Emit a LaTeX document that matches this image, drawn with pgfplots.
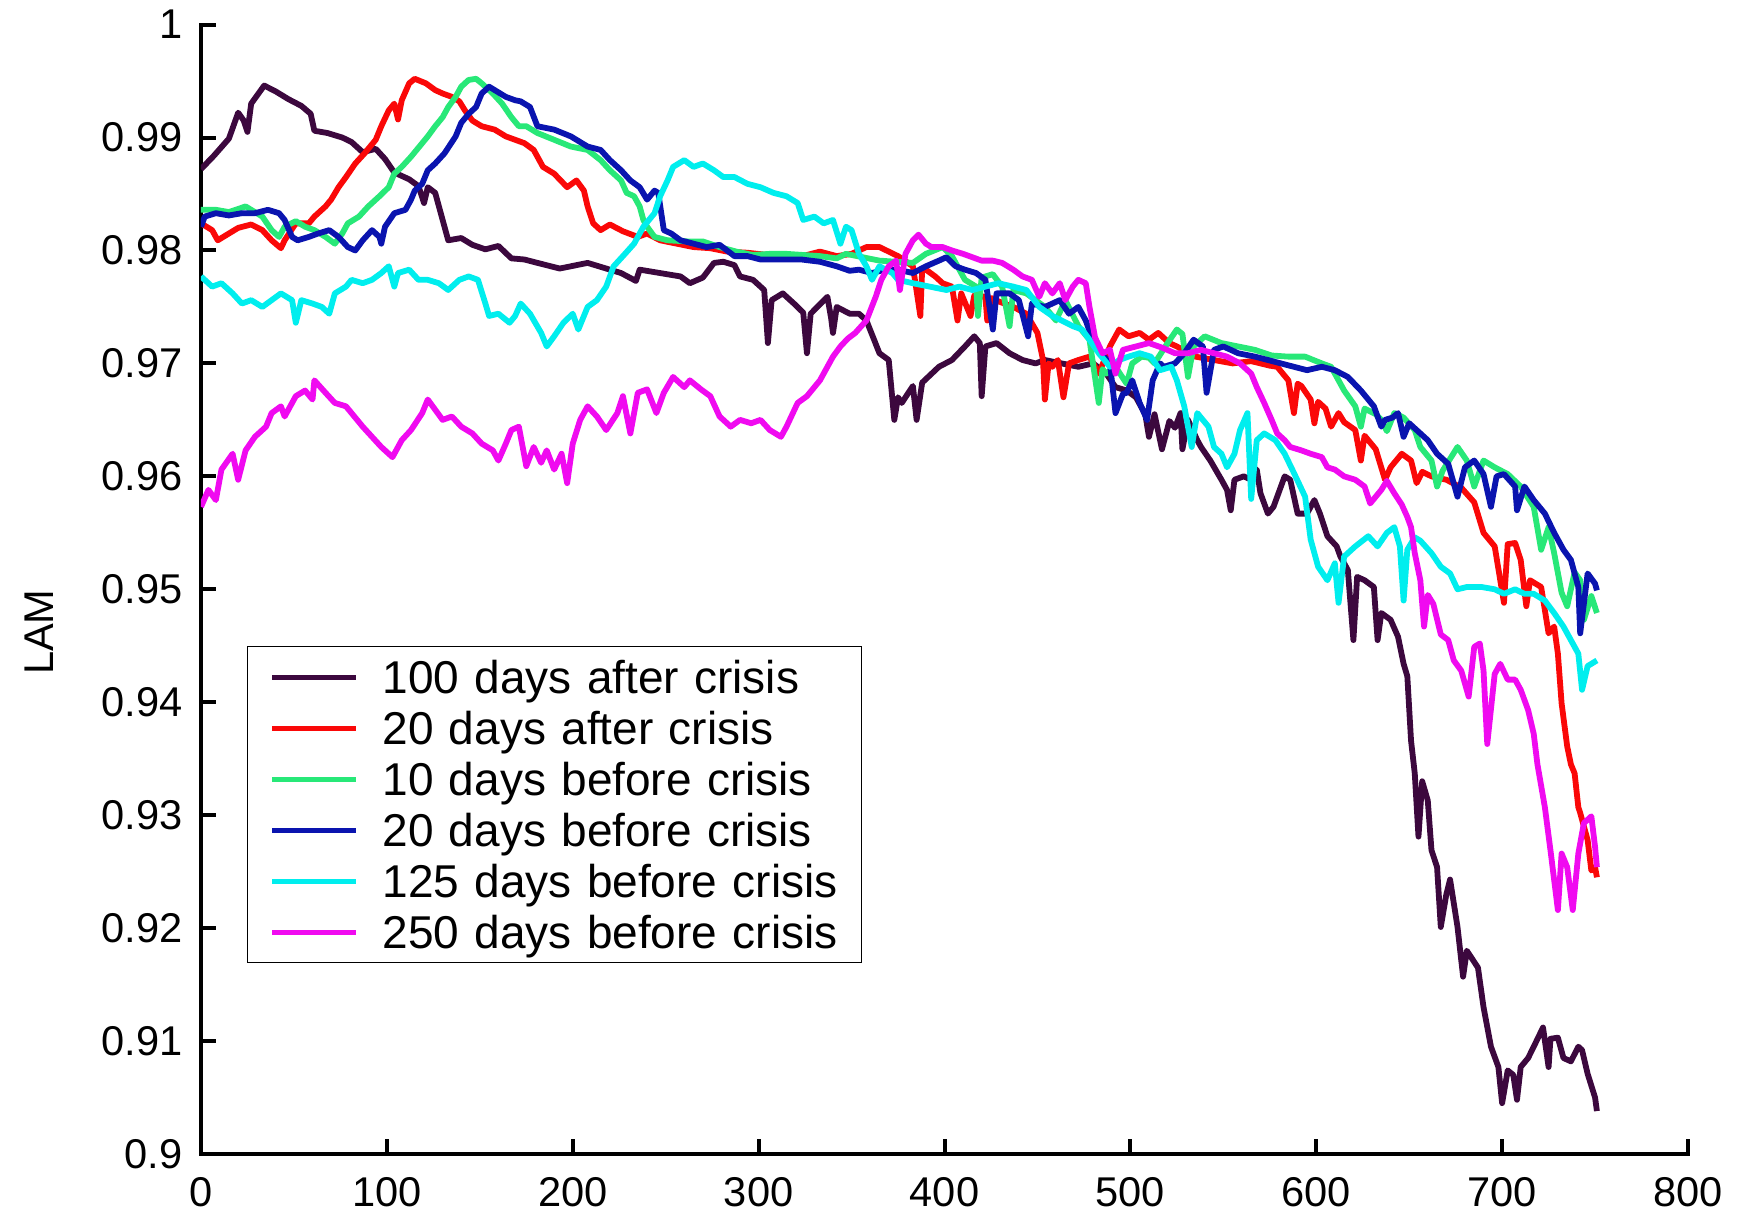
\documentclass[border=0pt]{standalone}
\usepackage{pgfplots}
\pgfplotsset{compat=1.18}
\usepackage{fontspec}
\setmainfont{Liberation Sans}

\definecolor{cPurple}{RGB}{60,8,62}
\definecolor{cRed}{RGB}{250,8,8}
\definecolor{cGreen}{RGB}{40,232,120}
\definecolor{cBlue}{RGB}{10,20,175}
\definecolor{cCyan}{RGB}{0,238,238}
\definecolor{cMagenta}{RGB}{240,10,240}

\begin{document}
\begin{tikzpicture}
\path[use as bounding box] (-100.5pt,-30pt) rectangle (772.5pt,577pt);
\begin{axis}[
  scale only axis,
  width=743.5pt, height=564.7pt,
  xmin=0, xmax=800, ymin=0.9, ymax=1,
  axis x line*=bottom, axis y line*=left,
  axis line style={line width=2pt, black, line cap=rect},
  tick align=inside,
  major tick length=7.5pt,
  every tick/.style={line width=2pt, black},
  xtick={0,100,200,300,400,500,600,700,800},
  xticklabels={0,100,200,300,400,500,600,700,800},
  ytick={0.9,0.91,0.92,0.93,0.94,0.95,0.96,0.97,0.98,0.99,1},
  yticklabels={0.9,0.91,0.92,0.93,0.94,0.95,0.96,0.97,0.98,0.99,1},
  ticklabel style={font=\fontsize{20.8}{25}\selectfont},
  yticklabel style={inner sep=0pt, anchor=east, xshift=-9pt},
  xticklabel style={inner sep=0pt, anchor=north, yshift=-11.5pt},
  ylabel={LAM},
  ylabel style={font=\fontsize{20.8}{25}\selectfont, at={(axis description cs:-0.109,0.462)}, anchor=center},
  legend style={
    at={(axis description cs:0.0309,0.450)}, anchor=north west,
    draw=black, line width=0.75pt, fill=white,
    inner xsep=11pt, inner ysep=2.5pt,
    font=\fontsize{23}{27}\selectfont,
    cells={anchor=west},
    nodes={inner sep=0pt, text height=21pt, text depth=4.5pt, text width=228.6pt, align=left},
    row sep=0pt,
  },
  legend image code/.code={\draw[#1, line width=2.5pt] (0pt,0pt) -- (42pt,0pt); \path (53.7pt,0pt);},
  every axis plot/.append style={line width=2.9pt, line join=round, mark=none},
]

% 100 days after crisis
\addplot[cPurple] coordinates {
(0,0.9872) (7,0.9884) (15,0.9899) (20,0.9922) (23,0.9915) (25,0.9905) (27,0.9930) (34,0.9946)
(40,0.9941) (47,0.9934) (54,0.9928) (59,0.9921) (61,0.9906) (68,0.9904) (76,0.9900) (81,0.9896)
(87,0.9887) (94,0.9890) (99,0.9881) (104,0.9869) (112,0.9863) (117,0.9857) (120,0.9842) (122,0.9856)
(126,0.9851) (130,0.9827) (133,0.9809) (140,0.9811) (146,0.9805) (153,0.9801) (160,0.9804) (167,0.9793)
(174,0.9792) (181,0.9789) (193,0.9784) (208,0.9789) (218,0.9784) (226,0.9780) (234,0.9773) (236,0.9783)
(247,0.9780) (258,0.9777) (263,0.9771) (270,0.9776) (276,0.9789) (281,0.9790) (287,0.9787) (290,0.9777)
(297,0.9774) (303,0.9765) (305,0.9718) (307,0.9756) (313,0.9762) (319,0.9753) (324,0.9745) (326,0.9709)
(328,0.9744) (337,0.9759) (339,0.9740) (340,0.9727) (342,0.9750) (349,0.9744) (354,0.9744) (358,0.9738)
(365,0.9709) (370,0.9703) (373,0.9650) (375,0.9670) (377,0.9665) (383,0.9680) (385,0.9650) (388,0.9683)
(397,0.9697) (404,0.9703) (411,0.9715) (416,0.9724) (419,0.9718) (420,0.9671) (422,0.9715) (428,0.9718)
(435,0.9709) (442,0.9703) (449,0.9700) (454,0.9703) (463,0.9700) (472,0.9697) (480,0.9700) (487,0.9691)
(492,0.9679) (498,0.9676) (503,0.9670) (508,0.9655) (510,0.9635) (513,0.9655) (517,0.9624) (521,0.9649)
(524,0.9643) (527,0.9656) (528,0.9624) (531,0.9650) (536,0.9632) (538,0.9626) (543,0.9614) (549,0.9597)
(552,0.9588) (554,0.9570) (556,0.9597) (561,0.9600) (565,0.9597) (568,0.9606) (570,0.9585) (574,0.9567)
(577,0.9573) (583,0.9600) (586,0.9597) (590,0.9567) (595,0.9567) (599,0.9579) (602,0.9567) (606,0.9547)
(611,0.9538) (613,0.9529) (617,0.9517) (620,0.9455) (622,0.9511) (626,0.9508) (631,0.9502) (633,0.9455)
(635,0.9479) (640,0.9473) (644,0.9458) (647,0.9434) (649,0.9423) (651,0.9366) (653,0.9337) (655,0.9281)
(657,0.9330) (660,0.9313) (662,0.9269) (665,0.9254) (667,0.9201) (670,0.9230) (672,0.9243) (676,0.9201)
(679,0.9157) (681,0.9180) (687,0.9165) (690,0.9130) (694,0.9095) (698,0.9077) (700,0.9045) (703,0.9074)
(706,0.9070) (708,0.9048) (710,0.9077) (714,0.9085) (717,0.9095) (722,0.9112) (725,0.9077) (726,0.9102)
(730,0.9103) (733,0.9085) (737,0.9082) (741,0.9095) (743,0.9092) (746,0.9071) (750,0.9050) (751,0.9038)
};
\addlegendentry{100 days after crisis}

% 20 days after crisis
\addplot[cRed] coordinates {
(0,0.9824) (6,0.9818) (9,0.9809) (15,0.9815) (20,0.9820) (27,0.9823) (33,0.9818) (38,0.9809)
(43,0.9802) (45,0.9809) (51,0.9824) (58,0.9824) (61,0.9830) (67,0.9839) (70,0.9845) (74,0.9856)
(78,0.9865) (83,0.9877) (88,0.9886) (94,0.9898) (97,0.9910) (101,0.9924) (104,0.9930) (106,0.9916)
(108,0.9933) (112,0.9948) (115,0.9952) (121,0.9948) (126,0.9942) (130,0.9939) (135,0.9936) (139,0.9932)
(142,0.9924) (146,0.9915) (151,0.9910) (158,0.9907) (164,0.9901) (169,0.9898) (174,0.9895) (179,0.9889)
(184,0.9874) (190,0.9868) (197,0.9856) (202,0.9862) (206,0.9853) (208,0.9839) (211,0.9824) (215,0.9818)
(220,0.9823) (227,0.9817) (235,0.9812) (240,0.9815) (247,0.9809) (256,0.9806) (265,0.9803) (274,0.9802)
(283,0.9799) (294,0.9798) (305,0.9796) (315,0.9795) (326,0.9796) (333,0.9799) (342,0.9795) (350,0.9797)
(358,0.9803) (365,0.9803) (375,0.9795) (383,0.9786) (387,0.9742) (388,0.9784) (390,0.9783) (395,0.9777)
(399,0.9771) (404,0.9768) (407,0.9738) (409,0.9762) (414,0.9742) (416,0.9760) (422,0.9759) (423,0.9738)
(425,0.9758) (429,0.9755) (437,0.9750) (444,0.9744) (450,0.9727) (453,0.9703) (454,0.9668) (456,0.9700)
(458,0.9697) (461,0.9703) (464,0.9670) (467,0.9700) (472,0.9703) (478,0.9706) (483,0.9691) (489,0.9715)
(494,0.9730) (499,0.9724) (505,0.9727) (510,0.9721) (515,0.9727) (521,0.9718) (525,0.9715) (535,0.9706)
(545,0.9703) (555,0.9700) (565,0.9702) (575,0.9698) (579,0.9697) (585,0.9685) (588,0.9656) (590,0.9682)
(592,0.9680) (597,0.9668) (599,0.9647) (601,0.9666) (605,0.9660) (608,0.9644) (612,0.9656) (615,0.9648)
(621,0.9641) (624,0.9614) (626,0.9636) (628,0.9632) (632,0.9624) (637,0.9597) (640,0.9608) (646,0.9620)
(651,0.9614) (654,0.9594) (657,0.9604) (662,0.9600) (670,0.9597) (678,0.9590) (685,0.9577) (690,0.9550)
(696,0.9538) (701,0.9488) (703,0.9540) (707,0.9541) (710,0.9526) (713,0.9485) (715,0.9508) (721,0.9502)
(725,0.9461) (728,0.9467) (730,0.9443) (732,0.9399) (735,0.9361) (737,0.9345) (739,0.9337) (741,0.9307)
(742,0.9302) (746,0.9278) (748,0.9251) (750,0.9254) (751,0.9245)
};
\addlegendentry{20 days after crisis}

% 10 days before crisis
\addplot[cGreen] coordinates {
(0,0.9836) (8,0.9836) (15,0.9834) (24,0.9839) (33,0.9830) (38,0.9818) (42,0.9812) (45,0.9821)
(51,0.9826) (56,0.9821) (61,0.9818) (67,0.9812) (72,0.9806) (76,0.9815) (79,0.9824) (85,0.9830)
(90,0.9839) (96,0.9848) (101,0.9856) (104,0.9868) (108,0.9874) (113,0.9883) (119,0.9895) (122,0.9901)
(126,0.9910) (130,0.9918) (133,0.9927) (137,0.9936) (140,0.9945) (144,0.9951) (148,0.9952) (151,0.9948)
(157,0.9939) (162,0.9930) (167,0.9918) (171,0.9910) (175,0.9910) (181,0.9904) (190,0.9898) (199,0.9892)
(208,0.9889) (215,0.9880) (220,0.9871) (226,0.9862) (229,0.9851) (233,0.9848) (236,0.9839) (238,0.9827)
(240,0.9821) (244,0.9812) (251,0.9809) (262,0.9808) (270,0.9808) (279,0.9803) (288,0.9799) (297,0.9796)
(306,0.9797) (315,0.9797) (324,0.9796) (333,0.9795) (342,0.9793) (347,0.9797) (356,0.9794) (365,0.9791)
(374,0.9790) (383,0.9789) (390,0.9797) (399,0.9803) (404,0.9795) (411,0.9774) (417,0.9768) (418,0.9742)
(420,0.9776) (426,0.9779) (431,0.9768) (435,0.9733) (437,0.9765) (444,0.9762) (449,0.9756) (454,0.9750)
(460,0.9738) (465,0.9756) (472,0.9733) (478,0.9721) (483,0.9665) (485,0.9695) (487,0.9691) (492,0.9697)
(498,0.9682) (501,0.9700) (506,0.9706) (510,0.9705) (513,0.9700) (520,0.9718) (525,0.9730) (528,0.9726)
(531,0.9688) (534,0.9715) (540,0.9724) (549,0.9718) (558,0.9715) (567,0.9712) (576,0.9707) (585,0.9706)
(594,0.9706) (603,0.9700) (608,0.9697) (612,0.9685) (615,0.9676) (621,0.9662) (624,0.9644) (626,0.9660)
(632,0.9655) (635,0.9650) (638,0.9640) (642,0.9656) (647,0.9652) (653,0.9641) (656,0.9626) (662,0.9614)
(665,0.9591) (668,0.9605) (676,0.9626) (681,0.9614) (685,0.9591) (690,0.9614) (696,0.9608) (703,0.9602)
(710,0.9591) (717,0.9573) (721,0.9535) (725,0.9555) (728,0.9532) (732,0.9497) (735,0.9485) (739,0.9515)
(742,0.9508) (744,0.9473) (748,0.9494) (751,0.9479)
};
\addlegendentry{10 days before crisis}

% 20 days before crisis
\addplot[cBlue] coordinates {
(0,0.9821) (2,0.9830) (8,0.9833) (15,0.9831) (22,0.9833) (29,0.9833) (36,0.9836) (42,0.9833)
(45,0.9827) (49,0.9812) (52,0.9809) (58,0.9812) (63,0.9815) (69,0.9818) (74,0.9812) (79,0.9803)
(83,0.9800) (87,0.9809) (92,0.9818) (96,0.9812) (97,0.9806) (99,0.9821) (104,0.9833) (110,0.9836)
(113,0.9845) (115,0.9853) (119,0.9859) (122,0.9871) (126,0.9877) (131,0.9886) (137,0.9901) (140,0.9913)
(144,0.9921) (148,0.9927) (151,0.9939) (155,0.9945) (158,0.9942) (164,0.9936) (169,0.9933) (172,0.9932)
(177,0.9927) (181,0.9910) (190,0.9907) (199,0.9901) (208,0.9892) (215,0.9889) (220,0.9880) (226,0.9871)
(231,0.9862) (236,0.9856) (240,0.9845) (244,0.9853) (246,0.9851) (249,0.9818) (253,0.9815) (258,0.9809)
(265,0.9806) (272,0.9803) (279,0.9805) (287,0.9795) (294,0.9795) (301,0.9792) (312,0.9792) (323,0.9792)
(333,0.9790) (342,0.9786) (349,0.9782) (354,0.9783) (361,0.9780) (368,0.9783) (375,0.9783) (383,0.9780)
(390,0.9786) (397,0.9791) (401,0.9794) (406,0.9786) (411,0.9783) (417,0.9780) (422,0.9774) (426,0.9730)
(428,0.9762) (435,0.9762) (440,0.9756) (445,0.9724) (447,0.9753) (454,0.9750) (462,0.9756) (467,0.9744)
(472,0.9750) (476,0.9738) (481,0.9715) (489,0.9700) (492,0.9656) (496,0.9673) (498,0.9674) (501,0.9685)
(505,0.9665) (509,0.9650) (512,0.9685) (516,0.9700) (518,0.9697) (524,0.9700) (529,0.9709) (534,0.9721)
(539,0.9715) (541,0.9674) (545,0.9712) (550,0.9715) (558,0.9709) (567,0.9706) (574,0.9703) (581,0.9700)
(588,0.9697) (595,0.9694) (603,0.9697) (610,0.9694) (617,0.9688) (624,0.9676) (631,0.9662) (635,0.9644)
(637,0.9650) (641,0.9652) (644,0.9656) (647,0.9635) (650,0.9647) (654,0.9641) (660,0.9632) (665,0.9620)
(671,0.9611) (676,0.9582) (680,0.9608) (685,0.9614) (690,0.9602) (694,0.9573) (697,0.9600) (701,0.9602)
(707,0.9591) (708,0.9570) (712,0.9591) (717,0.9579) (723,0.9567) (728,0.9550) (733,0.9535) (737,0.9526)
(741,0.9502) (742,0.9461) (746,0.9514) (750,0.9505) (751,0.9499)
};
\addlegendentry{20 days before crisis}

% 125 days before crisis
\addplot[cCyan] coordinates {
(0,0.9777) (6,0.9768) (11,0.9771) (17,0.9762) (22,0.9753) (27,0.9756) (33,0.9750) (38,0.9756)
(43,0.9762) (49,0.9756) (51,0.9736) (54,0.9756) (60,0.9753) (65,0.9750) (69,0.9744) (72,0.9762)
(78,0.9768) (81,0.9774) (87,0.9771) (92,0.9774) (97,0.9780) (101,0.9786) (104,0.9768) (106,0.9780)
(112,0.9783) (117,0.9774) (122,0.9774) (128,0.9771) (133,0.9765) (139,0.9774) (144,0.9777) (149,0.9774)
(153,0.9753) (155,0.9742) (160,0.9744) (166,0.9736) (169,0.9742) (172,0.9753) (177,0.9744) (183,0.9727)
(186,0.9715) (190,0.9724) (195,0.9736) (200,0.9744) (203,0.9730) (208,0.9750) (213,0.9756) (218,0.9768)
(222,0.9786) (227,0.9795) (233,0.9806) (238,0.9821) (244,0.9833) (247,0.9848) (251,0.9862) (254,0.9874)
(260,0.9880) (265,0.9874) (270,0.9877) (276,0.9871) (281,0.9865) (287,0.9865) (294,0.9859) (301,0.9856)
(308,0.9851) (315,0.9848) (321,0.9842) (324,0.9827) (330,0.9830) (335,0.9824) (340,0.9827) (344,0.9806)
(347,0.9821) (350,0.9818) (354,0.9797) (358,0.9786) (361,0.9774) (365,0.9786) (372,0.9780) (375,0.9774)
(383,0.9771) (392,0.9768) (401,0.9765) (408,0.9768) (415,0.9765) (422,0.9768) (429,0.9771) (437,0.9768)
(444,0.9765) (451,0.9750) (458,0.9742) (463,0.9738) (469,0.9733) (474,0.9730) (478,0.9721) (483,0.9709)
(489,0.9697) (494,0.9703) (499,0.9706) (505,0.9709) (511,0.9706) (516,0.9694) (522,0.9697) (525,0.9685)
(529,0.9662) (533,0.9626) (536,0.9656) (542,0.9644) (545,0.9626) (549,0.9620) (552,0.9608) (556,0.9620)
(559,0.9641) (563,0.9656) (565,0.9580) (568,0.9632) (572,0.9638) (578,0.9632) (583,0.9620) (588,0.9603)
(594,0.9582) (597,0.9544) (601,0.9520) (606,0.9508) (610,0.9523) (612,0.9488) (615,0.9529) (621,0.9538)
(628,0.9547) (633,0.9538) (638,0.9550) (642,0.9555) (645,0.9538) (647,0.9490) (649,0.9535) (653,0.9546)
(656,0.9543) (662,0.9532) (667,0.9520) (672,0.9514) (676,0.9500) (681,0.9502) (689,0.9502) (696,0.9500)
(701,0.9496) (707,0.9500) (712,0.9496) (717,0.9496) (723,0.9490) (728,0.9479) (733,0.9467) (737,0.9455)
(741,0.9443) (743,0.9411) (746,0.9432) (751,0.9437)
};
\addlegendentry{125 days before crisis}

% 250 days before crisis
\addplot[cMagenta] coordinates {
(0,0.9573) (4,0.9588) (8,0.9579) (11,0.9606) (17,0.9620) (20,0.9597) (24,0.9623) (29,0.9635)
(35,0.9644) (38,0.9656) (43,0.9662) (45,0.9653) (51,0.9671) (56,0.9676) (60,0.9668) (61,0.9685)
(67,0.9674) (72,0.9665) (78,0.9662) (81,0.9656) (87,0.9644) (92,0.9635) (97,0.9626) (103,0.9617)
(108,0.9632) (113,0.9641) (119,0.9656) (122,0.9668) (126,0.9659) (130,0.9650) (135,0.9653) (140,0.9644)
(146,0.9638) (151,0.9629) (157,0.9623) (160,0.9614) (164,0.9629) (167,0.9641) (171,0.9644) (175,0.9609)
(179,0.9626) (183,0.9612) (186,0.9623) (190,0.9606) (194,0.9620) (197,0.9594) (200,0.9629) (204,0.9650)
(208,0.9662) (213,0.9653) (218,0.9641) (224,0.9656) (227,0.9671) (231,0.9638) (235,0.9674) (240,0.9677)
(245,0.9656) (249,0.9674) (254,0.9688) (260,0.9679) (263,0.9685) (269,0.9677) (274,0.9671) (279,0.9653)
(285,0.9644) (290,0.9650) (296,0.9647) (301,0.9650) (306,0.9641) (312,0.9635) (315,0.9644) (321,0.9665)
(326,0.9671) (330,0.9679) (333,0.9685) (337,0.9697) (340,0.9706) (344,0.9715) (348,0.9722) (352,0.9727)
(358,0.9738) (363,0.9759) (366,0.9774) (370,0.9786) (374,0.9791) (376,0.9765) (379,0.9797) (383,0.9809)
(386,0.9814) (390,0.9806) (393,0.9803) (399,0.9803) (404,0.9800) (410,0.9797) (415,0.9794) (420,0.9791)
(426,0.9791) (431,0.9789) (437,0.9783) (442,0.9777) (447,0.9774) (451,0.9759) (454,0.9771) (458,0.9762)
(462,0.9771) (465,0.9756) (469,0.9768) (472,0.9774) (476,0.9771) (478,0.9750) (481,0.9723) (485,0.9709)
(489,0.9712) (492,0.9691) (496,0.9712) (503,0.9715) (510,0.9718) (517,0.9714) (524,0.9709) (531,0.9709)
(538,0.9712) (545,0.9709) (552,0.9706) (559,0.9700) (565,0.9691) (568,0.9679) (572,0.9665) (576,0.9650)
(579,0.9638) (583,0.9632) (586,0.9626) (592,0.9623) (597,0.9620) (603,0.9617) (606,0.9608) (610,0.9606)
(615,0.9600) (621,0.9597) (626,0.9591) (629,0.9576) (635,0.9588) (638,0.9596) (642,0.9585) (646,0.9575)
(649,0.9564) (651,0.9555) (653,0.9532) (656,0.9508) (658,0.9467) (660,0.9495) (663,0.9487) (667,0.9460)
(671,0.9455) (674,0.9437) (678,0.9428) (682,0.9405) (685,0.9449) (688,0.9452) (690,0.9428) (692,0.9363)
(696,0.9425) (699,0.9434) (703,0.9420) (707,0.9420) (710,0.9411) (714,0.9393) (717,0.9372) (719,0.9345)
(723,0.9307) (726,0.9269) (730,0.9216) (732,0.9266) (735,0.9254) (738,0.9216) (741,0.9266) (744,0.9293)
(748,0.9299) (750,0.9272) (751,0.9254)
};
\addlegendentry{250 days before crisis}

\end{axis}
\end{tikzpicture}
\end{document}
